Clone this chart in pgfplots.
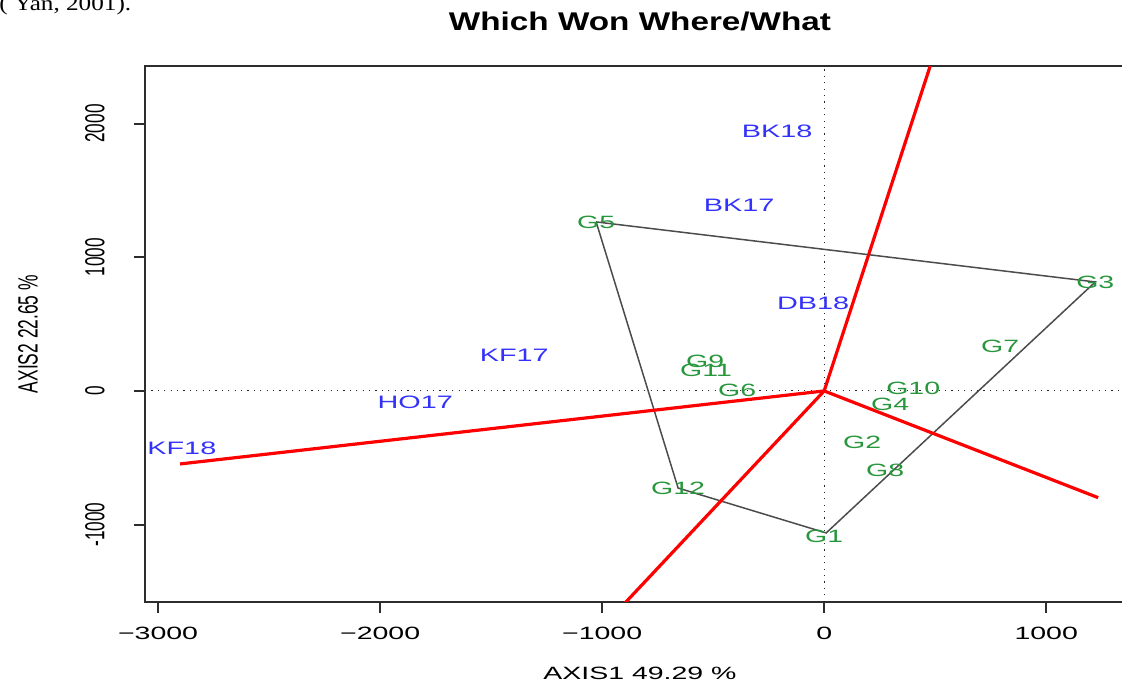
\documentclass[border=0pt]{standalone}
\usepackage{pgfplots}
\usepackage{pgfplotstable}
\pgfplotsset{compat=1.18}
\usepackage{fontspec}
\setmainfont[FakeStretch=1.6]{Liberation Sans}
\newfontfamily\rotfont{Liberation Sans}
\newfontfamily\titlefont[FakeStretch=1.3]{Liberation Sans}
\newfontfamily\seriffont[FakeStretch=1.2]{Liberation Serif}
\definecolor{gcol}{RGB}{40,150,60}
\definecolor{ecol}{RGB}{50,50,250}
\definecolor{boxc}{RGB}{45,45,45}

\pgfplotstableread{
x y lab
-212 1939 BK18
-383 1391 BK17
-50 658 DB18
-1396 269 KF17
-1842 -82 HO17
-2893 -426 KF18
}\envtab

\pgfplotstableread{
x y lab
0 -1090 G1
171 -387 G2
1221 815 G3
297 -97 G4
-1027 1264 G5
-392 7 G6
793 337 G7
275 -596 G8
-536 219 G9
401 22 G10
-532 157 G11
-658 -726 G12
}\gentab

\begin{document}
\begin{tikzpicture}
\begin{axis}[
  at={(0,0)}, anchor=south west,
  scale only axis, width=495pt, height=267.7pt,
  xmin=-3059, xmax=1400, ymin=-1577, ymax=2427,
  axis line style={boxc, line width=1pt},
  xtick={-3000,-2000,-1000,0,1000},
  xticklabels={−3000,−2000,−1000,0,1000},
  ytick={-1000,0,1000,2000},
  yticklabels={-1000,0,1000,2000},
  xtick pos=bottom, ytick pos=left,
  tick align=outside,
  major tick length=5.5pt,
  every tick/.style={boxc, line width=1pt},
  xticklabel style={anchor=center, font=\fontsize{8.9}{10}\selectfont},
  xticklabel shift=10.4pt,
  yticklabel style={anchor=center, rotate=90, yscale=1.6, font=\rotfont\fontsize{8.6}{10}\selectfont},
  yticklabel shift=19.5pt,
  xlabel={AXIS1 49.29 \%},
  xlabel style={at={([yshift=-36pt]axis description cs:0.5,0)}, anchor=center, font=\fontsize{8.9}{10}\selectfont},
  ylabel={AXIS2 22.65 \%},
  ylabel style={at={([xshift=-58.5pt]axis description cs:0,0.5)}, anchor=center, rotate=0, yscale=1.6, font=\rotfont\fontsize{8.7}{10}\selectfont},
  title={\titlefont\bfseries Which Won Where/What},
  title style={at={([yshift=16.3pt]axis description cs:0.5,1)}, anchor=center, font=\fontsize{12.8}{14}\selectfont},
]
% reference lines at the origin
\addplot[black!85, line width=0.5pt, dash pattern=on 0.6pt off 2.6pt] coordinates {(-3059,0) (1400,0)};
\addplot[black!85, line width=0.5pt, dash pattern=on 0.6pt off 2.6pt] coordinates {(0,-1577) (0,2427)};
% polygon
\addplot[boxc!85, line width=0.75pt] coordinates {(-1027,1264) (1221,815) (9,-1062) (-658,-726) (-1027,1264)};
% sector rays
\addplot[red, line width=1.6pt] coordinates {(0,0) (520,2646)};
\addplot[red, line width=1.6pt] coordinates {(0,0) (-2901,-546)};
\addplot[red, line width=1.6pt] coordinates {(0,0) (1234,-798)};
\addplot[red, line width=1.6pt] coordinates {(0,0) (-960,-1697)};
% labels
\addplot[only marks, mark=o, mark size=0pt, mark options={draw=none},
  nodes near coords, point meta=explicit symbolic,
  nodes near coords style={anchor=center, text=ecol, inner sep=0pt, font=\fontsize{9}{10}\selectfont}]
  table[x=x, y=y, meta=lab] {\envtab};
\addplot[only marks, mark=o, mark size=0pt, mark options={draw=none},
  nodes near coords, point meta=explicit symbolic,
  nodes near coords style={anchor=center, text=gcol, inner sep=0pt, font=\fontsize{8.9}{10}\selectfont}]
  table[x=x, y=y, meta=lab] {\gentab};
\end{axis}
\node[anchor=base west, inner sep=0pt, font=\seriffont\fontsize{10.5}{12}\selectfont] at (-73pt,295.9pt) {( Yan, 2001).};
\pgfresetboundingbox
\useasboundingbox (-72.5pt,-40.1pt) rectangle (488.5pt,300.9pt);
\end{tikzpicture}
\end{document}
